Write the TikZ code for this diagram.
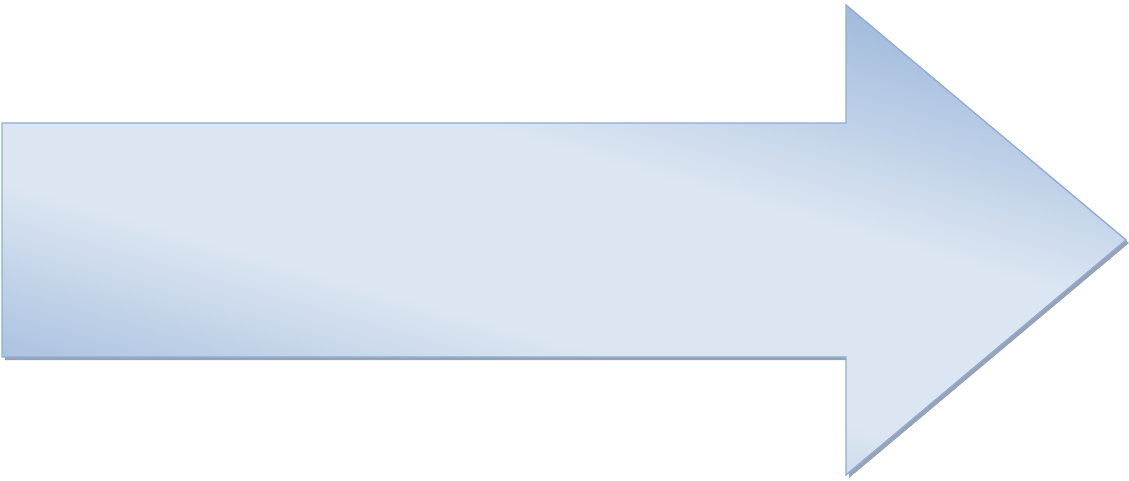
\documentclass[tikz,border=0pt]{standalone}
\usetikzlibrary{calc}
\definecolor{arrowdark}{HTML}{A3BCDD}
\definecolor{arrowlight}{HTML}{DCE6F2}
\definecolor{arrowedge}{HTML}{8EADD6}
\definecolor{shadowgray}{HTML}{97A2B2}
\pgfdeclareverticalshading{arrowshade}{100bp}{color(0bp)=(arrowdark); color(26bp)=(arrowdark); color(42bp)=(arrowlight); color(57bp)=(arrowlight); color(74bp)=(arrowdark); color(100bp)=(arrowdark)}
\tikzset{
  arrowshape/.style={shading=arrowshade, shading angle=-16},
  arrowline/.style={draw=arrowedge, line width=1.4pt, line join=miter},
  shadowshape/.style={fill=shadowgray}
}
\begin{document}
\begin{tikzpicture}[x=1pt,y=-1pt]
\useasboundingbox (0,0) rectangle (1129,481);
\fill[shadowshape] (5,126) -- (849,126) -- (849,8) -- (1129,243) -- (849,478) -- (849,360) -- (5,360) -- cycle;
\shade[arrowshape] (2,123) -- (846,123) -- (846,5) -- (1126,240) -- (846,475) -- (846,357) -- (2,357) -- cycle;
\draw[arrowline] (2,123) -- (846,123) -- (846,5) -- (1126,240) -- (846,475) -- (846,357) -- (2,357) -- cycle;
\end{tikzpicture}
\end{document}
